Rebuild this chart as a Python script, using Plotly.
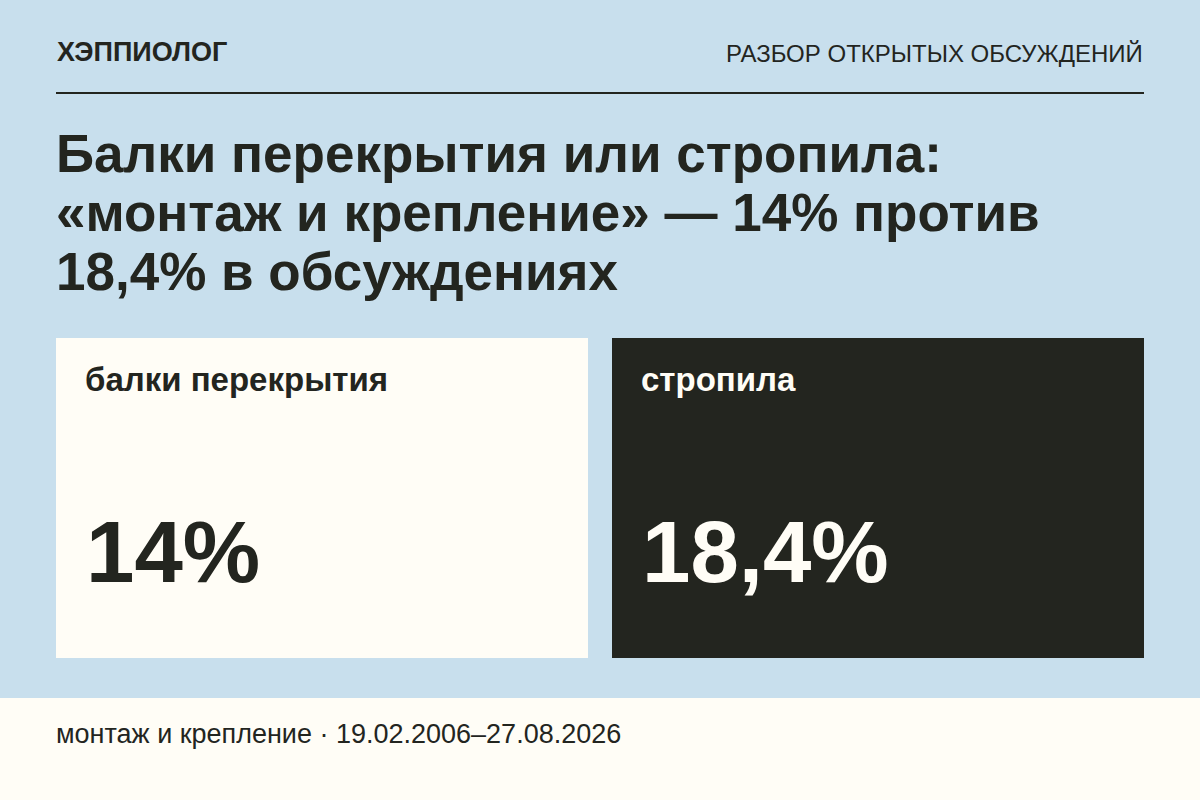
import plotly.graph_objects as go

# data
brand = "ХЭППИОЛОГ"
section = "РАЗБОР ОТКРЫТЫХ ОБСУЖДЕНИЙ"
title_lines = [
    "Балки перекрытия или стропила:",
    "«монтаж и крепление» — 14% против",
    "18,4% в обсуждениях",
]
categories = ["балки перекрытия", "стропила"]
shares = [14.0, 18.4]
topic = "монтаж и крепление"
period = "19.02.2006–27.08.2026"

# colours
BLUE = "#c8dfed"
CREAM = "#fffdf6"
DARK = "#23251f"
FONT = "Liberation Sans, Arial, sans-serif"


def fmt_share(v):
    return f"{v:g}".replace(".", ",") + "%"


fig = go.Figure()

shapes = []
annotations = []

# header
annotations.append(dict(x=55, y=52, text=f"<b>{brand}</b>", xanchor="left", yanchor="middle",
                        font=dict(size=27, color=DARK, family=FONT)))
annotations.append(dict(x=1145, y=53, text=section, xanchor="right", yanchor="middle",
                        font=dict(size=24, color=DARK, family=FONT)))
shapes.append(dict(type="line", x0=56, x1=1144, y0=93, y1=93, line=dict(color=DARK, width=2)))

# title, one annotation per line
for i, line in enumerate(title_lines):
    annotations.append(dict(x=54, y=153 + i * 59, text=f"<b>{line}</b>", xanchor="left", yanchor="middle",
                            font=dict(size=53, color=DARK, family=FONT)))

# cards
card_x = [56, 612]
card_w = 532
card_fill = [CREAM, DARK]
card_text = [DARK, CREAM]
for cx, cat, val, fill, tc in zip(card_x, categories, shares, card_fill, card_text):
    shapes.append(dict(type="rect", x0=cx, x1=cx + card_w, y0=338, y1=658,
                       fillcolor=fill, line=dict(width=0), layer="below"))
    annotations.append(dict(x=cx + 27, y=379, text=f"<b>{cat}</b>", xanchor="left", yanchor="middle",
                            font=dict(size=33, color=tc, family=FONT)))
    annotations.append(dict(x=cx + 28, y=551, text=f"<b>{fmt_share(val)}</b>", xanchor="left", yanchor="middle",
                            font=dict(size=87, color=tc, family=FONT)))

# footer band
shapes.append(dict(type="rect", x0=0, x1=1200, y0=698, y1=800, fillcolor=CREAM,
                   line=dict(width=0), layer="below"))
annotations.append(dict(x=54, y=734, text=f"{topic} · {period}", xanchor="left", yanchor="middle",
                        font=dict(size=27, color=DARK, family=FONT)))

for a in annotations:
    a.update(xref="x", yref="y", showarrow=False)

fig.update_layout(
    width=1200, height=800,
    margin=dict(l=0, r=0, t=0, b=0),
    paper_bgcolor=BLUE, plot_bgcolor=BLUE,
    xaxis=dict(range=[0, 1200], visible=False, fixedrange=True),
    yaxis=dict(range=[800, 0], visible=False, fixedrange=True),
    shapes=shapes, annotations=annotations,
    showlegend=False,
)

fig.write_html("out.html", config={"displayModeBar": False},
               post_script="document.body.style.margin='0';document.body.style.overflow='hidden';")
